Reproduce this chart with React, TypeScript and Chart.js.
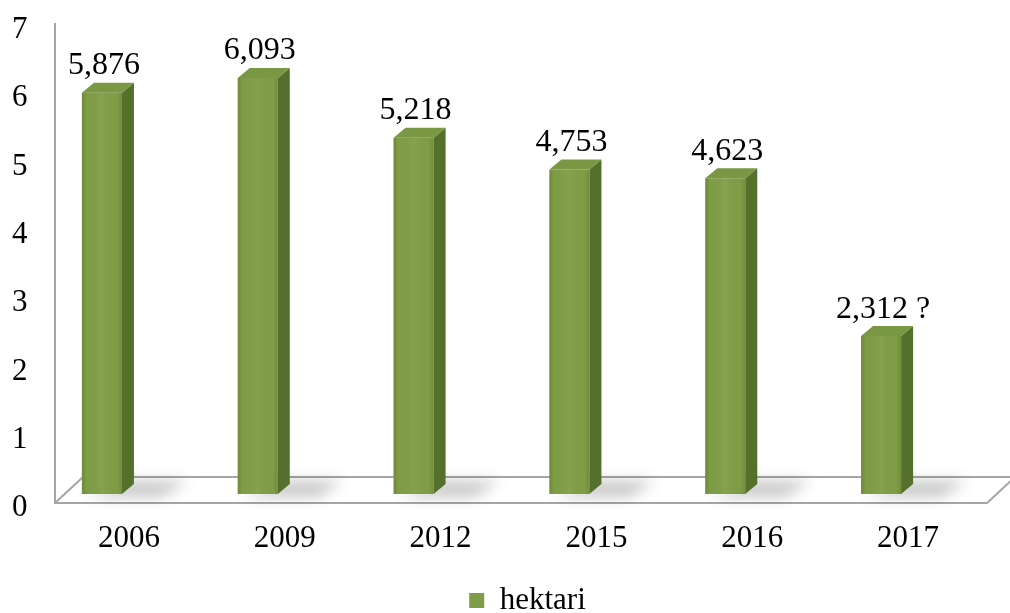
import React, { useEffect, useRef } from "react";
import { Chart, registerables } from "chart.js";

Chart.register(...registerables);

const categories = ["2006", "2009", "2012", "2015", "2016", "2017"];
const hektari = [5.876, 6.093, 5.218, 4.753, 4.623, 2.312];
const valueLabels = ["5,876", "6,093", "5,218", "4,753", "4,623", "2,312 ?"];
const yTickValues = [0, 1, 2, 3, 4, 5, 6, 7];
const seriesName = "hektari";

const FONT = "'Liberation Serif', 'Times New Roman', serif";
const FRONT = "#7f9c46";
const SIDE = "#55702c";
const TOP = "#7a9743";
const DX = 12;
const DY = 10;

const bar3d = {
  id: "bar3d",
  afterLayout(chart: any) {
    if (chart.legend) {
      chart.legend.left = 96;
    }
  },
  beforeDatasetsDraw(chart: any) {
    const { ctx, chartArea, scales } = chart;
    const y0 = scales.y.getPixelForValue(0);
    const frontY = y0 + 9;
    const backY = y0 - 17;
    const left = chartArea.left + 31;
    const right = chartArea.right + 28;
    ctx.save();
    ctx.strokeStyle = "#a6a6a6";
    ctx.lineWidth = 2;
    ctx.beginPath();
    ctx.moveTo(left, chartArea.top + 7);
    ctx.lineTo(left, frontY);
    ctx.lineTo(right, frontY);
    ctx.lineTo(right + 28, backY);
    ctx.moveTo(left, frontY);
    ctx.lineTo(left + 28, backY);
    ctx.lineTo(right + 28, backY);
    ctx.stroke();

    const meta = chart.getDatasetMeta(0);
    ctx.filter = "blur(7px)";
    ctx.fillStyle = "rgba(0,0,0,0.22)";
    meta.data.forEach((el: any) => {
      const { x, width } = el.getProps(["x", "width"], true);
      const xL = x - width / 2;
      const xR = x + width / 2;
      ctx.beginPath();
      ctx.moveTo(xL + 4, y0 + 3);
      ctx.lineTo(xR + 40, y0 + 3);
      ctx.lineTo(xR + 66, y0 - 13);
      ctx.lineTo(xR + 6, y0 - 13);
      ctx.closePath();
      ctx.fill();
    });
    ctx.filter = "none";
    ctx.restore();
  },
  afterDatasetsDraw(chart: any) {
    const { ctx } = chart;
    const meta = chart.getDatasetMeta(0);
    ctx.save();
    meta.data.forEach((el: any, i: number) => {
      const { x, y, base, width } = el.getProps(["x", "y", "base", "width"], true);
      const xL = x - width / 2;
      const xR = x + width / 2;
      const g = ctx.createLinearGradient(xL, 0, xR, 0);
      g.addColorStop(0, "rgba(60,80,20,0.25)");
      g.addColorStop(0.12, "rgba(60,80,20,0.0)");
      g.addColorStop(0.5, "rgba(255,255,255,0.06)");
      g.addColorStop(0.88, "rgba(60,80,20,0.0)");
      g.addColorStop(1, "rgba(60,80,20,0.2)");
      ctx.fillStyle = g;
      ctx.fillRect(xL, y, width, base - y);
      ctx.fillStyle = SIDE;
      ctx.beginPath();
      ctx.moveTo(xR, y);
      ctx.lineTo(xR + DX, y - DY);
      ctx.lineTo(xR + DX, base - DY);
      ctx.lineTo(xR, base);
      ctx.closePath();
      ctx.fill();
      ctx.fillStyle = TOP;
      ctx.beginPath();
      ctx.moveTo(xL, y);
      ctx.lineTo(xR, y);
      ctx.lineTo(xR + DX, y - DY);
      ctx.lineTo(xL + DX, y - DY);
      ctx.closePath();
      ctx.fill();
      ctx.fillStyle = "#000";
      ctx.font = `32px ${FONT}`;
      ctx.textAlign = "center";
      ctx.textBaseline = "middle";
      ctx.fillText(valueLabels[i], x + 2, y - 27);
    });
    ctx.restore();
  },
};

export default function App() {
  const ref = useRef<HTMLCanvasElement>(null);
  useEffect(() => {
    if (!ref.current) return;
    const chart = new Chart(ref.current, {
      type: "bar",
      data: {
        labels: categories,
        datasets: [
          {
            label: seriesName,
            data: hektari,
            backgroundColor: FRONT,
            borderColor: "#62802f",
            borderWidth: 0,
            categoryPercentage: 1,
            barPercentage: 0.257,
          },
        ],
      },
      options: {
        responsive: false,
        animation: false,
        layout: { padding: { top: 16, right: 51, left: 0, bottom: -13 } },
        scales: {
          y: {
            min: 0,
            max: 7,
            afterBuildTicks: (s: any) => {
              s.ticks = yTickValues.map((v) => ({ value: v }));
            },
            afterFit: (s: any) => {
              s.width = 24;
            },
            grid: { display: false, drawTicks: false },
            border: { display: false },
            ticks: {
              mirror: true,
              padding: -12,
              labelOffset: 14,
              color: "#000",
              font: { size: 31, family: FONT, lineHeight: 1 },
            },
          },
          x: {
            afterFit: (s: any) => {
              s.height = 90;
            },
            grid: { display: false, drawTicks: false },
            border: { display: false },
            ticks: {
              padding: 29,
              labelOffset: 27,
              color: "#000",
              font: { size: 31, family: FONT, lineHeight: 1 },
            },
          },
        },
        plugins: {
          legend: {
            position: "bottom",
            labels: {
              color: "#000",
              font: { size: 31, family: FONT },
              boxWidth: 15,
              boxHeight: 15,
              padding: 1,
            },
          },
          tooltip: { enabled: false },
        },
      },
      plugins: [bar3d],
    });
    return () => chart.destroy();
  }, []);
  return (
    <div style={{ position: "absolute", left: 0, top: 0, width: 1010, height: 613, background: "#fff" }}>
      <canvas ref={ref} width={1010} height={613} style={{ display: "block" }} />
    </div>
  );
}
